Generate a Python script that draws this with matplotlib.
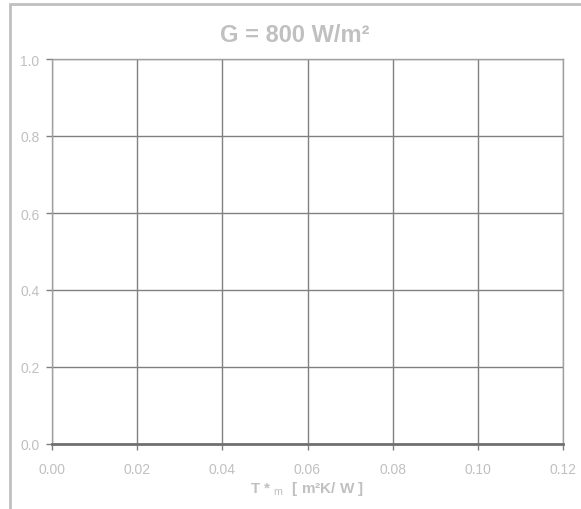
import matplotlib
matplotlib.use('Agg')
import matplotlib.pyplot as plt
from matplotlib.patches import Rectangle

plt.rcParams['font.family'] = ['Liberation Sans', 'DejaVu Sans']
plt.rcParams['mathtext.fontset'] = 'custom'
plt.rcParams['mathtext.rm'] = 'Liberation Sans'
plt.rcParams['mathtext.bf'] = 'Liberation Sans:bold'

x_ticks = [0.00, 0.02, 0.04, 0.06, 0.08, 0.10, 0.12]
y_ticks = [0.0, 0.2, 0.4, 0.6, 0.8, 1.0]
title = 'G = 800 W/m²'

W, H = 581, 510
fig = plt.figure(figsize=(W / 100, H / 100), dpi=100)
ax = fig.add_axes([52 / W, 1 - 445 / H, (563 - 52) / W, (445 - 60) / H])

# outer frame (only top and left visible)
fig.patches.append(Rectangle((10 / W, -0.1), 1.2, 1 - 5 / H + 0.1, transform=fig.transFigure,
                             fill=False, edgecolor='#c0c0c0', linewidth=2))

ax.set_xlim(x_ticks[0], x_ticks[-1])
ax.set_ylim(y_ticks[0], y_ticks[-1])
ax.set_xticks(x_ticks)
ax.set_yticks(y_ticks)
ax.set_xticklabels([f'{v:.2f}' for v in x_ticks])
ax.set_yticklabels([f'{v:.1f}' for v in y_ticks])
ax.grid(True, color='#808080', linewidth=1)
ax.set_axisbelow(True)
for s in ['top', 'right', 'left']:
    ax.spines[s].set_color('#a0a0a0')
    ax.spines[s].set_linewidth(1)
ax.spines['bottom'].set_color('#707070')
ax.spines['bottom'].set_linewidth(2)
ax.tick_params(colors='#808080', labelcolor='#c0c0c0', labelsize=10, length=4, width=1)
ax.tick_params(axis='x', pad=9)
ax.tick_params(axis='y', pad=5)

ax.set_title(title, color='#c0c0c0', fontsize=17, fontweight='bold', pad=13, x=0.475)
ax.set_xlabel(r'T * $_{\mathrm{m}}$  [ m²K/ W ]', color='#c0c0c0', fontsize=11,
              fontweight='bold', labelpad=2)

fig.savefig('out.png', dpi=100)
